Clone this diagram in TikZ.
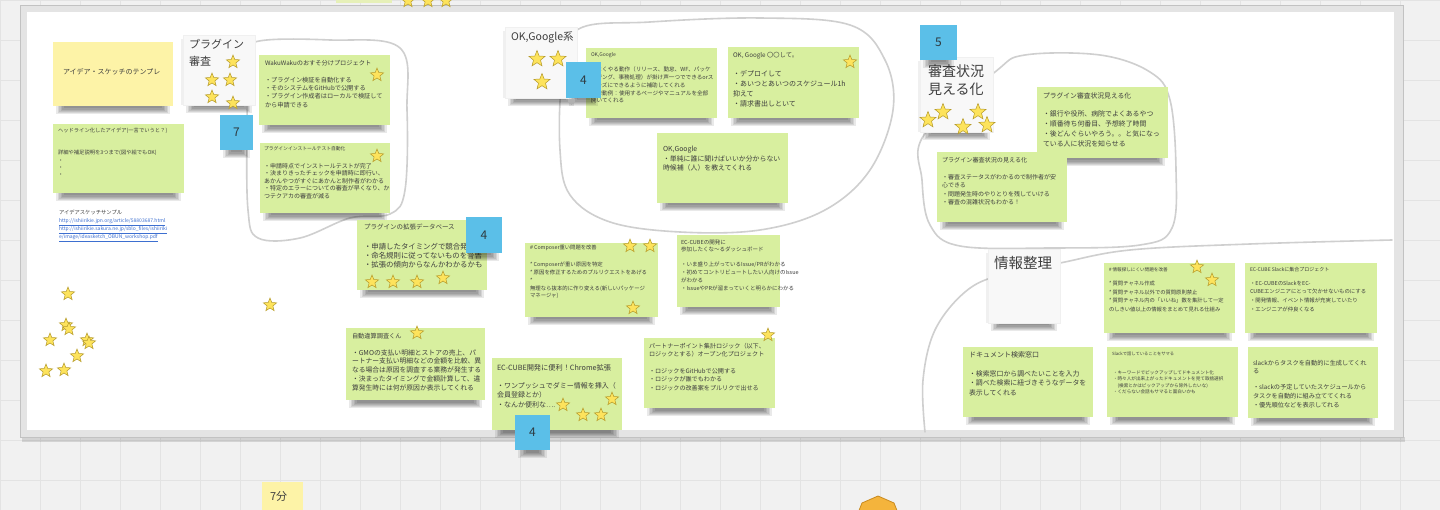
\documentclass[tikz,border=0pt]{standalone}
\usepackage{fontspec}
\setmainfont{Noto Sans CJK JP}
\usetikzlibrary{shapes.geometric}
\definecolor{gn}{HTML}{D8EF9F}
\definecolor{yl}{HTML}{FDF3A7}
\definecolor{wc}{HTML}{F8F8F8}
\definecolor{bl}{HTML}{5BBFE8}
\definecolor{tc}{HTML}{3E3E3E}
\definecolor{nb}{HTML}{2E3A40}
\definecolor{sy}{HTML}{FDE35C}
\definecolor{sb}{HTML}{B59A2A}
\definecolor{cv}{HTML}{CFCFCF}
\definecolor{cvs}{HTML}{F1F1F1}
\definecolor{gridc}{HTML}{E3E3E3}
\definecolor{frm}{HTML}{E4E4E4}
\definecolor{brd}{HTML}{C2C2C2}
\definecolor{lnk}{HTML}{3D6FD0}
\definecolor{orng}{HTML}{F4B43C}
\definecolor{orngd}{HTML}{C98A1E}
\definecolor{topn}{HTML}{E6F0B8}
\newcommand{\softshadow}[3]{% x1 x2 y2
  \foreach \k in {0,...,5} {\fill[black,opacity=.085] ({#1+3+\k*1.6},{#3-2}) rectangle ({#2-3-\k*1.6},{#3+8-\k*1.1});}}
\newcommand{\stkn}[6][gn]{%
  \softshadow{#3}{#5}{#6}
  \node[stickbox,fill=#1,minimum width={(#5-#3)*1pt},minimum height={(#6-#4)*1pt}] (#2) at (#3,#4) {};}
\newcommand{\card}[5]{%
  \softshadow{#2}{#4}{#5}
  \fill[black,opacity=.06] ({#2-2},{#3+4}) rectangle (#2,{#5});
  \node[stickbox,fill=wc,draw=black!6,minimum width={(#4-#2)*1pt},minimum height={(#5-#3)*1pt}] (#1) at (#2,#3) {};}
\newcommand{\ntx}[6]{\node[txt,font=\fontsize{#4}{#5}\selectfont] (#1) at (#2,#3) {#6};}
\newcommand{\strn}[4][starn]{\node[#1] (#2) at (#3,#4) {};}
\newcommand{\blsq}[6]{%
  \softshadow{#3}{#5}{#6}
  \node[bluebox,minimum width={(#5-#3)*1pt},minimum height={(#6-#4)*1pt}] (#1) at (#3,#4) {#2};}
\begin{document}
\begin{tikzpicture}[x=1pt,y=-1pt,
  stickbox/.style={anchor=north west,inner sep=0pt,outer sep=0pt,draw=none},
  txt/.style={anchor=north west,inner sep=0pt,outer sep=0pt,align=left,text=tc},
  starn/.style={star,star points=5,star point ratio=2.3,minimum size=14pt,inner sep=0pt,fill=sy,draw=sb,line width=0.5pt},
  bigstar/.style={starn,minimum size=17pt},
  bluebox/.style={anchor=north west,inner sep=0pt,outer sep=0pt,fill=bl,text=nb,font=\fontsize{12}{14}\selectfont},
  curve/.style={draw=cv,line width=1.6pt,line cap=round},
]
\useasboundingbox (0,0) rectangle (1440,510);
\clip (0,0) rectangle (1440,510);
\fill[cvs] (0,0) rectangle (1440,510);
\draw[gridc,line width=0.6pt,step=40pt] (0,0) grid (1440,510);
% board
\fill[black,opacity=.12] (22,437) rectangle (1405,442);
\draw[brd,fill=frm,line width=1pt] (20,6) rectangle (1403,437);
\fill[white] (27,12) rectangle (1394,430);
% items at the top edge
\fill[topn] (336,-4) rectangle (392,3);
\strn{ts1}{408}{1}
\strn{ts2}{428}{1}
\strn{ts3}{446}{1}
% hand-drawn loops
\draw[curve] plot[smooth cycle,tension=0.6] coordinates {(255,42) (330,40) (400,48) (407,110) (405,190) (390,214) (350,218) (300,238) (258,238) (248,210) (247,130) (249,65)};
\draw[curve] plot[smooth cycle,tension=0.6] coordinates {(577,30) (650,22) (760,18) (850,25) (885,60) (893,110) (870,170) (825,210) (760,230) (680,232) (610,222) (570,195) (560,150) (562,80)};
\draw[curve] plot[smooth cycle,tension=0.6] coordinates {(995,72) (1025,55) (1100,55) (1150,72) (1170,100) (1176,170) (1172,228) (1140,245) (1050,248) (960,246) (930,225) (922,180) (924,135)};
\draw[curve] plot[smooth,tension=0.6] coordinates {(925,432) (923,380) (935,330) (965,292) (1000,275) (1060,263) (1130,250) (1250,244) (1392,240)};
% left column
\stkn[yl]{tmpl}{53}{42}{173}{106}
\ntx{tmplt}{63}{68.5}{7}{9}{アイデア・スケッチのテンプレ}
\stkn{head}{53}{124}{184}{193}
\ntx{headt}{58}{128.3}{5.3}{7.4}{ヘッドライン化したアイデア(一言でいうと？)}
\ntx{headb}{58}{150.3}{5.3}{7.4}{詳細や補足説明を3つまで(図や絵でもOK)\\・\\・\\・}
\ntx{samp}{59}{210.3}{5.3}{8}{アイデアスケッチサンプル}
\node[txt,text=lnk,font=\fontsize{5}{8}\selectfont] (links) at (59,218.5) {\underline{http://ishiirikie.jpn.org/article/58803687.html}\\\underline{http://ishiirikie.sakura.ne.jp/sblo\_files/ishiiriki}\\\underline{e/image/ideasketch\_OBUN\_workshop.pdf}};
% plugin review group
\card{plg}{183}{35}{255}{105}
\ntx{plgt}{189}{39.5}{11}{17}{プラグイン\\審査}
\strn{p1}{233}{62}
\strn{p2}{212}{80}
\strn{p3}{230}{80}
\strn{p4}{212}{97}
\strn{p5}{233}{103}
\blsq{b7}{7}{220}{115}{253}{150}
\stkn{waku}{259}{55}{390}{125}
\ntx{wakut}{265}{59.9}{6.2}{8.4}{WakuWakuのおすそ分けプロジェクト}
\ntx{wakub}{265}{76.9}{6.2}{8.4}{・プラグイン検証を自動化する\\・そのシステムをGitHubで公開する\\・プラグイン作成者はローカルで検証して\\から申請できる}
\strn{ws}{377}{75}
\stkn{inst}{260}{143}{390}{213}
\ntx{instt}{264}{146.6}{4.8}{7.6}{プラグインインストールテスト自動化}
\ntx{instb}{264}{163}{6}{7.6}{・申請時点でインストールテストが完了\\・決まりきったチェックを申請時に即行い、\\あかんやつがすぐにあかんと制作者がわかる\\・特定のエラーについての審査が早くなり、か\\つテクアカの審査が減る}
\strn{is}{377}{156}
\stkn{db}{357}{220}{487}{290}
\ntx{dbt}{364}{223.8}{6.5}{9.2}{プラグインの拡張データベース}
\ntx{dbb}{364}{242.8}{7.4}{9.2}{・申請したタイミングで競合発見\\・命名規則に従ってないものを警告\\・拡張の傾向からなんかわかるかも}
\blsq{b4a}{4}{466}{217}{502}{253}
\strn{d1}{372}{282}
\strn{d2}{393}{282}
\strn{d3}{417}{282}
\strn{d4}{443}{278}
\stkn{isan}{346}{328}{485}{400}
\ntx{isant}{352}{333.4}{6.2}{8.7}{自動違算調査くん}
\ntx{isanb}{352}{349.5}{6.8}{8.7}{・GMOの支払い明細とストアの売上、パ\\ートナー支払い明細などの金額を比較、異\\なる場合は原因を調査する業務が発生する\\・決まったタイミングで金額計算して、違\\算発生時には何が原因か表示してくれる}
\strn{isn}{417}{333}
% loose stars
\strn{l1}{68}{294}
\strn{l2}{66}{325}
\strn{l3}{69}{329}
\strn{l4}{50}{340}
\strn{l5}{87}{340}
\strn{l6}{89}{343}
\strn{l7}{77}{356}
\strn{l8}{64}{370}
\strn{l9}{46}{371}
\strn{l10}{270}{305}
% OK Google group
\card{okg}{505}{27}{577}{98}
\ntx{okgt}{511}{31.8}{10.5}{14}{OK,Google系}
\strn[bigstar]{o1}{537}{59}
\strn[bigstar]{o2}{558}{59}
\strn[bigstar]{o3}{542}{82}
\stkn{ok1}{586}{48}{717}{118}
\ntx{ok1t}{591}{52.5}{5}{7.7}{OK,Google}
\ntx{ok1b}{591}{67.2}{5.6}{7.7}{・よくやる動作（リリース、勤怠、WF、パッケ\\ージング、事務処理）が掛け声一つでできるorス\\ムーズにできるように補助してくれる\\・挙動例：使用するページやマニュアルを全部\\開いてくれる}
\blsq{b4b}{4}{566}{62}{601}{98}
\stkn{ok2}{728}{47}{859}{118}
\ntx{ok2t}{733}{51.9}{6.3}{9.8}{OK, Google 〇〇して。}
\ntx{ok2b}{733}{71}{7}{9.8}{・デプロイして\\・あいつとあいつのスケジュール1h\\抑えて\\・請求書出しといて}
\strn{ok2s}{850}{62}
\stkn{ok3}{657}{133}{788}{203}
\ntx{ok3t}{663}{146.5}{6.9}{9.2}{OK,Google\\・単純に誰に聞けばいいか分からない\\時候補（人）を教えてくれる}
% middle notes
\stkn{comp}{525}{243}{658}{317}
\ntx{compt}{530}{245.3}{5.3}{7.9}{\# Composer重い問題を改善}
\ntx{compb}{530}{261.8}{5.4}{7.9}{* Composerが重い原因を特定\\* 原因を修正するためのプルリクエストをあげる\\*\\無理なら抜本的に作り変える(新しいパッケージ\\マネージャ)}
\strn{c1}{630}{246}
\strn{c2}{650}{246}
\strn{c3}{633}{308}
\stkn{dash}{677}{235}{780}{307}
\ntx{dasht}{681}{239.5}{5.5}{7.5}{EC-CUBEの開発に\\参加したくな～るダッシュボード}
\ntx{dashb}{681}{261.6}{5.5}{8}{・いま盛り上がっているIssue/PRがわかる\\・初めてコントリビュートしたい人向けのIssue\\がわかる\\・IssueやPRが溜まっていくと明らかにわかる}
\stkn{chr}{492}{358}{622}{430}
\ntx{chrt}{497}{364.5}{7.2}{9.3}{EC-CUBE開発に便利！Chrome拡張}
\ntx{chrb}{497}{382.5}{7}{9.3}{・ワンプッシュでダミー情報を挿入（\\会員登録とか）\\・なんか便利な….}
\strn{h1}{563}{405}
\strn{h2}{612}{399}
\strn{h3}{583}{415}
\strn{h4}{601}{415}
\blsq{b4c}{4}{515}{415}{550}{450}
\stkn{part}{644}{338}{775}{408}
\ntx{partt}{649}{343}{6.1}{8.3}{パートナーポイント集計ロジック（以下、\\ロジックとする）オープン化プロジェクト}
\ntx{partb}{649}{368.6}{6.1}{8.3}{・ロジックをGitHubで公開する\\・ロジックが誰でもわかる\\・ロジックの改善案をプルリクで出せる}
\strn{pts}{768}{335}
% review status group
\card{shn}{920}{57}{993}{132}
\ntx{shnt}{928}{64.7}{14}{18.3}{審査状況\\見える化}
\blsq{b5}{5}{920}{25}{957}{60}
\strn[bigstar]{e1}{928}{120}
\strn[bigstar]{e2}{943}{112}
\strn[bigstar]{e3}{963}{127}
\strn[bigstar]{e4}{978}{112}
\strn[bigstar]{e5}{987}{125}
\stkn{sh1}{1037}{87}{1168}{158}
\ntx{sh1t}{1043}{92.6}{6.8}{9.8}{プラグイン審査状況見える化}
\ntx{sh1b}{1043}{110.9}{6.9}{9.8}{・銀行や役所、病院でよくあるやつ\\・順番待ち何番目、予想終了時間\\・後どんぐらいやろう。。と気になっ\\ている人に状況を知らせる}
\stkn{sh2}{937}{152}{1067}{222}
\ntx{sh2t}{942}{157.7}{6.1}{8.4}{プラグイン審査状況の見える化}
\ntx{sh2b}{942}{174.3}{6}{8.4}{・審査ステータスがわかるので制作者が安\\心できる\\・問題発生時のやりとりを残していける\\・審査の混雑状況もわかる！}
% information group
\card{inf}{988}{249}{1060}{323}
\ntx{inft}{994}{256.8}{14.5}{18}{情報整理}
\stkn{in1}{1104}{263}{1235}{333}
\ntx{in1t}{1109}{267.7}{4.6}{8.8}{\# 情報探しにくい問題を改善}
\ntx{in1b}{1109}{280.9}{5.3}{8.8}{* 質問チャネル作成\\* 質問チャネル以外での質問原則禁止\\* 質問チャネル内の「いいね」数を集計して一定\\のしきい値以上の情報をまとめて見れる仕組み}
\strn{i1}{1197}{267}
\strn{i2}{1212}{280}
\stkn{in2}{1245}{263}{1377}{333}
\ntx{in2t}{1250}{267.5}{5}{8.8}{EC-CUBE Slackに集合プロジェクト}
\ntx{in2b}{1250}{280.8}{5.4}{8.8}{・EC-CUBEのSlackをEC-\\CUBEエンジニアにとって欠かせないものにする\\・開発情報、イベント情報が充実していたり\\・エンジニアが仲良くなる}
\stkn{doc}{963}{347}{1093}{417}
\ntx{doct}{969}{351.5}{7}{9.2}{ドキュメント検索窓口}
\ntx{docb}{969}{370.9}{6.9}{9.2}{・検索窓口から調べたいことを入力\\・調べた検索に紐づきそうなデータを\\表示してくれる}
\stkn{sum}{1107}{347}{1238}{417}
\ntx{sumt}{1112}{351.9}{4.3}{6.1}{Slackで話していることをサマる}
\ntx{sumb}{1113}{371}{4.6}{6.1}{・キーワードでピックアップしてドキュメント化\\・時々人が出来上がったドキュメントを見て取捨選択\\　(検索とかはピックアップから除外したいな)\\・くだらない会話もサマると面白いかも}
\stkn{task}{1248}{347}{1378}{418}
\ntx{taskt}{1253}{360.2}{6.2}{8.4}{slackからタスクを自動的に生成してくれ\\る}
\ntx{taskb}{1253}{384.6}{6.2}{8.6}{・slackの予定していたスケジュールから\\タスクを自動的に組み立ててくれる\\・優先順位などを表示してれる}
% below the board
\stkn[yl]{min7}{262}{482}{303}{525}
\ntx{min7t}{270}{491.5}{11}{13}{7分}
\filldraw[fill=orng,draw=orngd,line width=0.8pt] (858,513) -- (862,503) -- (878,496) -- (894,503) -- (898,513) -- cycle;
\end{tikzpicture}
\end{document}
